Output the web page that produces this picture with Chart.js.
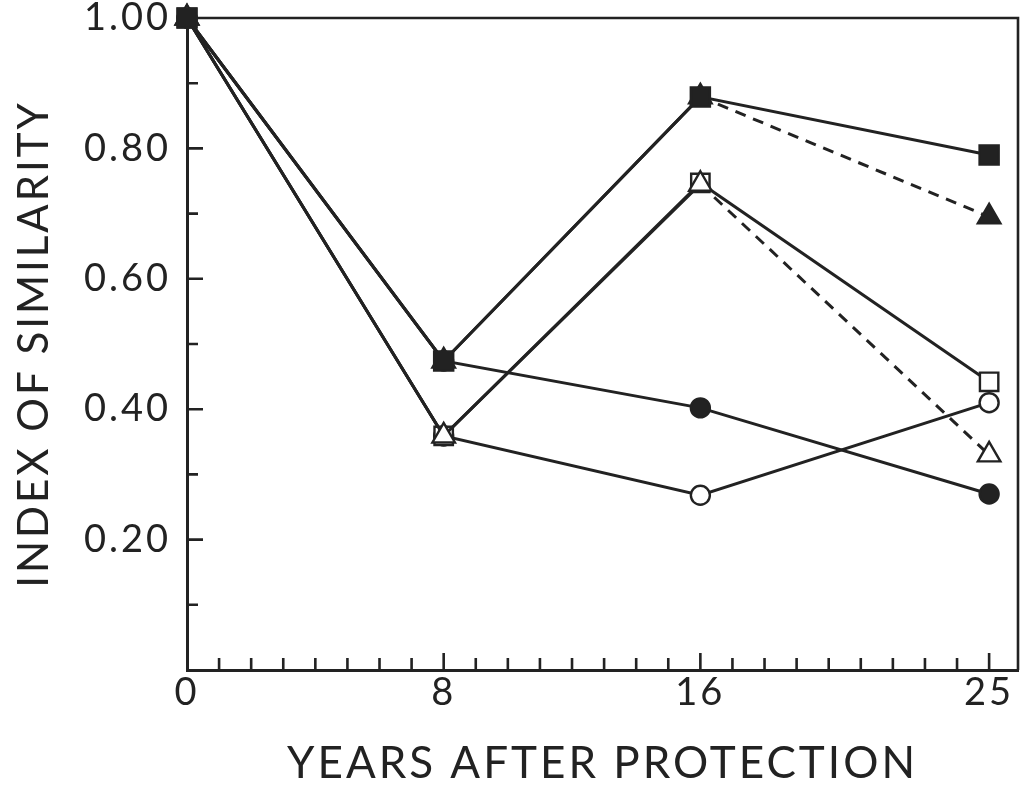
<!DOCTYPE html>
<html>
<head>
<meta charset="utf-8">
<script src="https://cdn.jsdelivr.net/npm/chart.js@4.4.0/dist/chart.umd.min.js"></script>
<style>
  html, body { margin: 0; padding: 0; background: #fff; }
  #wrap { width: 1022px; height: 790px; }
</style>
</head>
<body>
<div id="wrap"><canvas id="simChart" width="1022" height="790"></canvas></div>
<script>
// years after protection
const years = [0, 8, 16, 25];
const xTicks = [0, 8, 16, 25];
const yTicks = [0.2, 0.4, 0.6, 0.8, 1.0];

// index of similarity
const filledSquare   = [1.00, 0.474, 0.879, 0.790];
const filledTriangle = [1.00, 0.474, 0.879, 0.695];
const openSquare     = [1.00, 0.359, 0.747, 0.442];
const openTriangle   = [1.00, 0.359, 0.745, 0.330];
const filledCircle   = [1.00, 0.474, 0.402, 0.270];
const openCircle     = [1.00, 0.359, 0.268, 0.410];

const INK = "#222";
const FONT = "'Lato', 'DejaVu Sans', sans-serif";

function pts(vals) {
  return vals.map((v, i) => ({ x: years[i], y: v }));
}

// last segment dashed (16 -> 25), rest solid
const dashLast = { borderDash: ctx => ctx.p0DataIndex === 2 ? [11, 8] : undefined };

function series(label, vals, style, radius, filled, dashed) {
  return {
    label,
    data: pts(vals),
    clip: false,
    borderColor: INK,
    borderWidth: 3,
    pointStyle: style,
    pointRadius: radius,
    pointHoverRadius: radius,
    pointBackgroundColor: filled ? INK : "#fff",
    pointBorderColor: INK,
    pointBorderWidth: 2.4,
    tension: 0,
    segment: dashed ? dashLast : undefined
  };
}

// minor ticks, inside the frame, plus top/right frame lines
const frame = {
  id: "frame",
  beforeDraw(chart) {
    chart.ctx.letterSpacing = "3px";
  },
  beforeDatasetsDraw(chart) {
    const { ctx, chartArea: a, scales: { x, y } } = chart;
    ctx.save();
    ctx.strokeStyle = INK;
    ctx.lineWidth = 2.6;
    ctx.beginPath();
    ctx.moveTo(a.left, a.top); ctx.lineTo(a.right, a.top); ctx.lineTo(a.right, a.bottom);
    for (let i = 1; i <= 25; i++) {
      const px = x.getPixelForValue(i);
      const len = xTicks.includes(i) ? 17 : 12;
      ctx.moveTo(px, a.bottom); ctx.lineTo(px, a.bottom - len);
    }
    for (let j = 1; j < 10; j++) {
      const py = y.getPixelForValue(j / 10);
      const len = j % 2 === 0 ? 16 : 11;
      ctx.moveTo(a.left, py); ctx.lineTo(a.left + len, py);
    }
    ctx.stroke();
    ctx.restore();
  }
};

new Chart(document.getElementById("simChart").getContext("2d"), {
  type: "line",
  data: {
    datasets: [
      series("filled square", filledSquare, "rect", 13.5, true, false),
      series("open triangle", openTriangle, "triangle", 13, false, true),
      series("open square", openSquare, "rect", 13, false, false),
      series("filled triangle", filledTriangle, "triangle", 13, true, true),
      series("filled circle", filledCircle, "circle", 9.5, true, false),
      series("open circle", openCircle, "circle", 9.5, false, false)
    ]
  },
  options: {
    responsive: false,
    animation: false,
    layout: { autoPadding: false, padding: { top: 18, right: 4, left: 0, bottom: 0 } },
    plugins: { legend: { display: false }, tooltip: { enabled: false } },
    scales: {
      x: {
        type: "linear",
        min: 0,
        max: 25.9,
        afterBuildTicks: s => { s.ticks = xTicks.map(v => ({ value: v })); },
        afterFit: s => { s.height = 120; s.paddingLeft = 0; s.paddingRight = 0; },
        grid: { display: false },
        border: { display: true, color: INK, width: 3 },
        ticks: {
          color: INK,
          padding: -8,
          font: { family: FONT, size: 38, weight: 400 },
          callback: v => String(v),
          maxRotation: 0
        },
        title: {
          display: true,
          text: "YEARS AFTER PROTECTION",
          color: INK,
          font: { family: FONT, size: 44, weight: 400 },
          padding: { top: 11, bottom: 0 }
        }
      },
      y: {
        min: 0,
        max: 1,
        afterBuildTicks: s => { s.ticks = yTicks.map(v => ({ value: v })); },
        afterFit: s => { s.width = 187; s.paddingTop = 0; s.paddingBottom = 0; },
        grid: { display: false },
        border: { display: true, color: INK, width: 3 },
        ticks: {
          color: INK,
          padding: 8,
          font: { family: FONT, size: 38, weight: 400 },
          callback: v => v.toFixed(2)
        },
        title: {
          display: true,
          text: "INDEX OF SIMILARITY",
          color: INK,
          font: { family: FONT, size: 42, weight: 400 },
          padding: { top: 9, bottom: 0 }
        }
      }
    }
  },
  plugins: [frame]
});
</script>
</body>
</html>
